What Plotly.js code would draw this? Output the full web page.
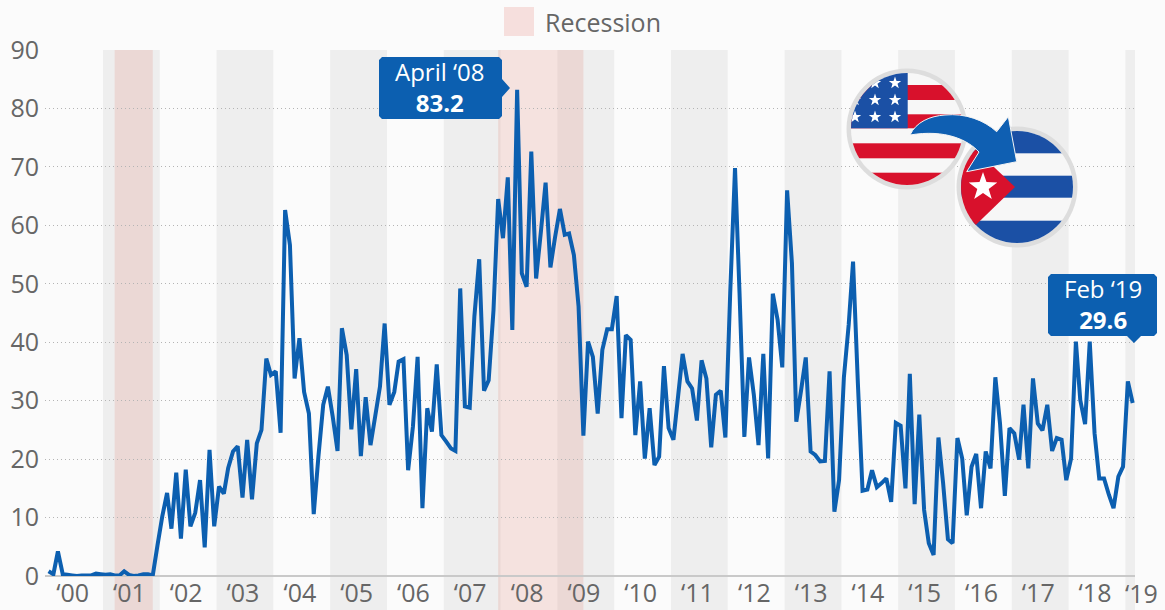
<!DOCTYPE html>
<html>
<head>
<meta charset="utf-8">
<script src="https://cdn.plot.ly/plotly-3.0.1.min.js"></script>
<style>html,body{margin:0;padding:0;background:#fbfbfb}</style>
</head>
<body>
<div id="chart" style="width:1165px;height:610px"></div>
<script>
// Monthly values, January 2000 to February 2019
const values2000to2004 = [
  0.8,0.3,4.2,0.3,0.2,0.1,0.0,0.1,0.1,0.1,0.4,0.3,
  0.2,0.3,0.1,0.1,0.8,0.2,0.0,0.1,0.3,0.3,0.1,5.2,
  10.2,14.2,8.1,17.7,6.4,18.2,8.5,10.8,16.4,4.9,21.6,8.5,
  15.3,14.1,18.5,21.3,22.2,13.4,23.3,13.1,22.7,25.0,37.2,34.4,
  35.0,24.5,62.6,56.6,33.8,40.7,31.5,27.8,10.6,20.4,29.3,32.4
];
const values2005to2009 = [
  27.3,21.4,42.4,37.8,25.1,35.4,20.5,30.6,22.4,27.3,32.4,43.2,
  29.3,31.5,36.7,37.1,18.1,25.6,37.5,11.6,28.7,24.7,36.2,24.1,
  23.0,21.8,21.4,49.2,29.0,28.8,44.4,54.2,31.7,33.5,45.5,64.5,
  57.8,68.2,42.1,83.2,51.8,49.5,72.6,50.9,59.0,67.3,52.8,58.0,
  62.8,58.4,58.6,54.9,46.1,24.0,40.1,37.5,27.8,38.7,42.2,42.2
];
const values2010to2014 = [
  47.9,27.0,41.2,40.4,24.1,33.3,20.1,28.7,19.0,20.4,35.9,25.3,
  23.3,31.0,38.0,33.3,32.1,26.6,36.9,33.8,22.0,31.0,31.7,23.7,
  48.4,69.8,48.4,23.8,37.4,31.0,22.4,38.0,20.1,48.3,43.8,35.7,
  66.0,53.5,26.4,31.8,37.4,21.3,20.7,19.6,19.7,35.0,11.0,16.4,
  34.0,43.0,53.8,33.0,14.6,14.8,18.1,15.2,15.9,16.7,12.7,26.2
];
const values2015to2019 = [
  25.7,15.0,34.6,12.3,27.6,11.3,5.6,3.6,23.7,15.9,6.3,5.6,
  23.6,20.1,10.4,18.7,20.9,11.6,21.3,18.4,34.0,26.1,13.7,25.3,
  24.4,19.9,29.3,18.4,33.8,26.1,24.9,29.3,21.4,23.6,23.3,16.4,
  20.1,40.1,30.1,26.0,40.1,24.4,16.7,16.7,13.9,11.6,17.0,18.7,
  33.3,29.6
];
const monthlyValues = [...values2000to2004, ...values2005to2009, ...values2010to2014, ...values2015to2019];

const tickYears = ["00","01","02","03","04","05","06","07","08","09","10","11","12","13","14","15","16","17","18"];
const yTicks = [0,10,20,30,40,50,60,70,80,90];
const shadedYears = [2001,2003,2005,2007,2009,2011,2013,2015,2017,2019];
const recessions = [["2001-03-01","2001-11-01"],["2007-12-01","2009-06-01"]];
const xStart = "1999-12-09", xEnd = "2019-02-16";

const BLUE = "#0c5fb0", GREY_TEXT = "#666666", FONT = "'Open Sans', sans-serif";
const L = 45, R = 1135, T = 50, B = 576, W = 1165, H = 610;
const px = x => (x - L) / (R - L);
const py = y => (B - y) / (B - T);

const dates = monthlyValues.map((_, i) => {
  const y = 2000 + Math.floor(i / 12), m = i % 12 + 1;
  return `${y}-${String(m).padStart(2, "0")}-01`;
});

// Rounded box with a small pointer, as an SVG path in paper coordinates
function calloutPath(x0, y0, x1, y1, pointer) {
  const r = 3, P = (x, y) => `${px(x)},${py(y)}`;
  let d = `M${P(x0 + r, y0)} L${P(x1 - r, y0)} L${P(x1, y0 + r)} `;
  if (pointer.side === "right") d += `L${P(x1, pointer.at - 9)} L${P(pointer.tip, pointer.at)} L${P(x1, pointer.at + 9)} `;
  d += `L${P(x1, y1 - r)} L${P(x1 - r, y1)} `;
  if (pointer.side === "bottom") d += `L${P(pointer.at + 7, y1)} L${P(pointer.at, pointer.tip)} L${P(pointer.at - 7, y1)} `;
  d += `L${P(x0 + r, y1)} L${P(x0, y1 - r)} L${P(x0, y0 + r)} Z`;
  return d;
}

const bottomEdge = py(H);
const shapes = [];
shadedYears.forEach(y => shapes.push({
  type: "rect", layer: "below", xref: "x", yref: "paper",
  x0: `${y - 1}-12-16`, x1: y === 2019 ? xEnd : `${y}-12-16`, y0: bottomEdge, y1: 1,
  fillcolor: "#eeeeee", line: {width: 0}
}));
recessions.forEach(([a, b]) => shapes.push({
  type: "rect", layer: "below", xref: "x", yref: "paper",
  x0: a, x1: b, y0: bottomEdge, y1: 1,
  fillcolor: "rgba(222,122,106,0.19)", line: {width: 0}
}));
// Legend swatch
shapes.push({
  type: "rect", layer: "above", xref: "paper", yref: "paper",
  x0: px(504), x1: px(534), y0: py(36), y1: py(7),
  fillcolor: "#f6dfdd", line: {width: 0}
});
shapes.push({
  type: "path", layer: "above", xref: "paper", yref: "paper",
  path: calloutPath(379, 57, 502, 119, {side: "right", at: 88, tip: 510}),
  fillcolor: BLUE, line: {width: 0}
});
shapes.push({
  type: "path", layer: "above", xref: "paper", yref: "paper",
  path: calloutPath(1048, 274, 1157, 336, {side: "bottom", at: 1134, tip: 343}),
  fillcolor: BLUE, line: {width: 0}
});

function label(text, x, y, size, color, anchor) {
  return {
    text, xref: "paper", yref: "paper", x: px(x), y: py(y),
    xanchor: anchor || "center", yanchor: "middle", showarrow: false,
    valign: "middle", borderpad: 0, font: {family: FONT, size, color}
  };
}
const annotations = [
  label("Recession", 544, 22, 25, GREY_TEXT, "left"),
  label("April ‘08<br><b>83.2</b>", 439.5, 87, 24, "#ffffff"),
  label("Feb ‘19<br><b>29.6</b>", 1103, 304, 24, "#ffffff"),
  label("‘19", 1141, 592.5, 25, GREY_TEXT)
];

// Five-pointed star as polygon points
function star(cx, cy, r) {
  const pts = [];
  for (let i = 0; i < 10; i++) {
    const a = -Math.PI / 2 + i * Math.PI / 5, q = i % 2 ? r * 0.4 : r;
    pts.push(`${(cx + q * Math.cos(a)).toFixed(1)},${(cy + q * Math.sin(a)).toFixed(1)}`);
  }
  return `<polygon points="${pts.join(" ")}" fill="#fff"/>`;
}

// United States and Cuba flag badges joined by a curved arrow
const RED = "#d8112c", FLAG_BLUE = "#1b50a5";
const usStars = [[895,83],[875,83],[875,100],[895,100],[855,117],[875,117],[895,117],[855,100]];
const flagsSvg = `<svg xmlns="http://www.w3.org/2000/svg" width="240" height="190" viewBox="845 65 240 190">
<defs>
<clipPath id="us"><circle cx="907" cy="129" r="56"/></clipPath>
<clipPath id="cu"><circle cx="1017" cy="187" r="56"/></clipPath>
</defs>
<circle cx="907" cy="129" r="60.5" fill="#dddddd"/>
<g clip-path="url(#us)">
<rect x="845" y="65" width="130" height="130" fill="#f7f7f7"/>
<rect x="845" y="85" width="130" height="15" fill="${RED}"/>
<rect x="845" y="114.3" width="130" height="14" fill="${RED}"/>
<rect x="845" y="143.3" width="130" height="15" fill="${RED}"/>
<rect x="845" y="172.7" width="130" height="20" fill="${RED}"/>
<rect x="845" y="65" width="62.7" height="63.3" fill="${FLAG_BLUE}"/>
${usStars.map(s => star(s[0], s[1], 6.5)).join("")}
</g>
<circle cx="1017" cy="187" r="60.5" fill="#dddddd"/>
<g clip-path="url(#cu)">
<rect x="955" y="125" width="130" height="125" fill="#f7f7f7"/>
<rect x="955" y="125" width="130" height="28.3" fill="${FLAG_BLUE}"/>
<rect x="955" y="175.7" width="130" height="22" fill="${FLAG_BLUE}"/>
<rect x="955" y="220.7" width="130" height="25" fill="${FLAG_BLUE}"/>
<polygon points="955,130 1015,187 955,245" fill="${RED}"/>
${star(983, 187, 15)}
</g>
<path d="M910,135 C916,122 930,116 945,115 C965,113 984,120 996.7,131.7 L1008.3,116.7 L1016.7,161.7 L966.7,171.7 L979,152 C968,140 945,129 910,135 Z" fill="#0f5fb2" stroke="#f4f4f4" stroke-width="1"/>
</svg>`;

const images = [{
  source: "data:image/svg+xml;charset=utf-8," + encodeURIComponent(flagsSvg),
  xref: "paper", yref: "paper", x: px(845), y: py(65),
  sizex: 240 / (R - L), sizey: 190 / (B - T),
  sizing: "stretch", xanchor: "left", yanchor: "top", layer: "above"
}];

const trace = {
  type: "scatter", mode: "lines", x: dates, y: monthlyValues,
  line: {color: BLUE, width: 4, shape: "linear", simplify: false},
  cliponaxis: false, hoverinfo: "x+y", showlegend: false
};

const layout = {
  width: W, height: H,
  margin: {l: L, r: W - R, t: T, b: H - B, pad: 0},
  paper_bgcolor: "#fbfbfb", plot_bgcolor: "rgba(0,0,0,0)",
  font: {family: FONT, color: GREY_TEXT, size: 25},
  showlegend: false,
  xaxis: {
    type: "date", range: [xStart, xEnd], showgrid: false, zeroline: false, showline: false,
    tickmode: "array",
    tickvals: tickYears.map(y => `20${y}-06-04`),
    ticktext: tickYears.map(y => "‘" + y),
    ticks: "", ticklen: 0, tickangle: 0,
    tickfont: {family: FONT, size: 25, color: GREY_TEXT}
  },
  yaxis: {
    range: [0, 90], tickmode: "array", tickvals: yTicks, ticktext: yTicks.map(String),
    showgrid: true, gridcolor: "#b4b4b4", gridwidth: 1, griddash: "1px,3px",
    zeroline: true, zerolinecolor: "#c9c9c9", zerolinewidth: 2, showline: false,
    ticks: "", ticklen: 0, ticklabelstandoff: 5,
    tickfont: {family: FONT, size: 25, color: GREY_TEXT}
  },
  shapes, annotations, images
};

Plotly.newPlot("chart", [trace], layout, {displayModeBar: false, staticPlot: true});
</script>
</body>
</html>
